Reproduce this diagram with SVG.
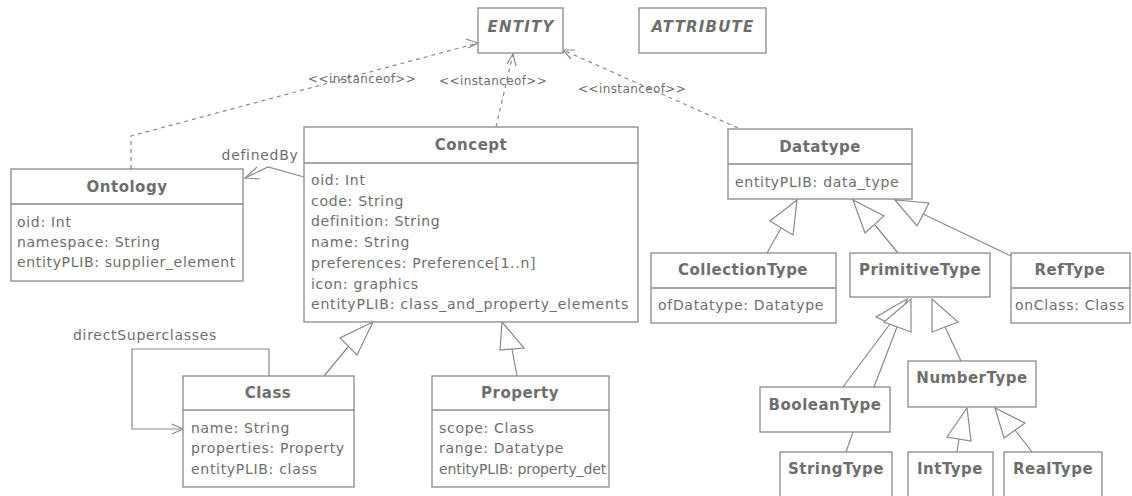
<svg xmlns="http://www.w3.org/2000/svg" width="1132" height="496" viewBox="0 0 1132 496">
<style>
.box{fill:#fff;stroke:#8a8a8a;stroke-width:1.3}
.sep{stroke:#8a8a8a;stroke-width:1.3}
.t{font-family:"DejaVu Sans",Verdana,sans-serif;font-size:14px;letter-spacing:0.7px;fill:#6e6e6e}
.h{font-family:"DejaVu Sans",Verdana,sans-serif;font-size:15px;letter-spacing:0.5px;font-weight:bold;fill:#6e6e6e;text-anchor:middle}
.hi{font-family:"DejaVu Sans",Verdana,sans-serif;font-size:15px;letter-spacing:1.2px;font-weight:bold;font-style:italic;fill:#6e6e6e;text-anchor:middle}
.lbl{font-family:"DejaVu Sans",Verdana,sans-serif;font-size:12px;letter-spacing:0.4px;fill:#6e6e6e}
.ln{fill:none;stroke:#8a8a8a;stroke-width:1.2}
.dash{fill:none;stroke:#8a8a8a;stroke-width:1.2;stroke-dasharray:4 4}
.tri{fill:#fff;stroke:#8a8a8a;stroke-width:1.2}
</style>
<g id="connectors">
  <polyline class="dash" points="131,169 131,136 478,43"/>
  <polyline class="ln" points="466,39 478,43 468,48"/>
  <text class="lbl" x="308" y="83">&lt;&lt;instanceof&gt;&gt;</text>
  <polyline class="dash" points="496,127 513,54"/>
  <polyline class="ln" points="507,64 513,54 516,66"/>
  <text class="lbl" x="439" y="85">&lt;&lt;instanceof&gt;&gt;</text>
  <polyline class="dash" points="738,128 563,50"/>
  <polyline class="ln" points="575,50 563,50 571,59"/>
  <text class="lbl" x="578" y="93">&lt;&lt;instanceof&gt;&gt;</text>
  <polyline class="ln" points="304,177 268,167 245,178"/>
  <polyline class="ln" points="257,167 245,178 260,179"/>
  <text class="t" x="260" y="160" text-anchor="middle">definedBy</text>
  <polyline class="ln" points="269,376 269,349 132,349 132,429 183,429"/>
  <polyline class="ln" points="172,424 183,429 172,434"/>
  <text class="t" x="73" y="340">directSuperclasses</text>
  <line class="ln" x1="324" y1="376" x2="348" y2="347"/>
  <polygon class="tri" points="373,322 340,338 357,355"/>
  <line class="ln" x1="517" y1="376" x2="512" y2="349"/>
  <polygon class="tri" points="502,322 500,350 524,348"/>
  <line class="ln" x1="767" y1="253" x2="781" y2="228"/>
  <polygon class="tri" points="797,200 770,221 793,235"/>
  <line class="ln" x1="898" y1="253" x2="875" y2="225"/>
  <polygon class="tri" points="853,200 865,233 884,216"/>
  <line class="ln" x1="1011" y1="256" x2="923" y2="214"/>
  <polygon class="tri" points="895,200 917,226 929,203"/>
  <line class="ln" x1="843" y1="387" x2="893" y2="320"/>
  <line class="ln" x1="846" y1="452" x2="853" y2="432"/>
  <line class="ln" x1="874" y1="387" x2="897" y2="327"/>
  <polygon class="tri" points="907,299 876,317 897,327"/>
  <polygon class="tri" points="911,299 911,332 884,322"/>
  <line class="ln" x1="961" y1="361" x2="945" y2="327"/>
  <polygon class="tri" points="932,299 932,332 958,322"/>
  <line class="ln" x1="957" y1="452" x2="959" y2="439"/>
  <polygon class="tri" points="967,408 947,437 971,441"/>
  <line class="ln" x1="1032" y1="452" x2="1015" y2="430"/>
  <polygon class="tri" points="995,408 1004,438 1025,423"/>
</g>
<g id="ENTITY">
  <rect class="box" x="478" y="8" width="85" height="45"/>
  <text class="hi" x="521" y="32">ENTITY</text>
</g>
<g id="ATTRIBUTE">
  <rect class="box" x="639" y="8" width="127" height="45"/>
  <text class="hi" x="703" y="32">ATTRIBUTE</text>
</g>
<g id="Concept">
  <rect class="box" x="304" y="127" width="334" height="195"/>
  <line class="sep" x1="304" y1="163" x2="638" y2="163"/>
  <text class="h" x="471" y="150">Concept</text>
  <text class="t" x="311" y="185">oid: Int</text>
  <text class="t" x="311" y="206">code: String</text>
  <text class="t" x="311" y="226">definition: String</text>
  <text class="t" x="311" y="247">name: String</text>
  <text class="t" x="311" y="268">preferences: Preference[1..n]</text>
  <text class="t" x="311" y="289">icon: graphics</text>
  <text class="t" x="311" y="309" textLength="318">entityPLIB: class_and_property_elements</text>
</g>
<g id="Ontology">
  <rect class="box" x="11" y="169" width="232" height="112"/>
  <line class="sep" x1="11" y1="204" x2="243" y2="204"/>
  <text class="h" x="127" y="192">Ontology</text>
  <text class="t" x="17" y="227">oid: Int</text>
  <text class="t" x="17" y="247">namespace: String</text>
  <text class="t" x="17" y="267" textLength="219">entityPLIB: supplier_element</text>
</g>
<g id="Datatype">
  <rect class="box" x="728" y="129" width="184" height="70"/>
  <line class="sep" x1="728" y1="164" x2="912" y2="164"/>
  <text class="h" x="820" y="152">Datatype</text>
  <text class="t" x="735" y="187">entityPLIB: data_type</text>
</g>
<g id="CollectionType">
  <rect class="box" x="651" y="253" width="185" height="70"/>
  <line class="sep" x1="651" y1="288" x2="836" y2="288"/>
  <text class="h" x="743" y="275">CollectionType</text>
  <text class="t" x="658" y="310">ofDatatype: Datatype</text>
</g>
<g id="PrimitiveType">
  <rect class="box" x="850" y="253" width="140" height="44"/>
  <text class="h" x="920" y="275">PrimitiveType</text>
</g>
<g id="RefType">
  <rect class="box" x="1011" y="253" width="119" height="70"/>
  <line class="sep" x1="1011" y1="288" x2="1130" y2="288"/>
  <text class="h" x="1070" y="275">RefType</text>
  <text class="t" x="1015" y="310">onClass: Class</text>
</g>
<g id="Class">
  <rect class="box" x="183" y="376" width="171" height="111"/>
  <line class="sep" x1="183" y1="410" x2="354" y2="410"/>
  <text class="h" x="268" y="398">Class</text>
  <text class="t" x="191" y="433">name: String</text>
  <text class="t" x="191" y="453">properties: Property</text>
  <text class="t" x="191" y="474">entityPLIB: class</text>
</g>
<g id="Property">
  <rect class="box" x="432" y="376" width="177" height="111"/>
  <line class="sep" x1="432" y1="410" x2="609" y2="410"/>
  <text class="h" x="520" y="398">Property</text>
  <text class="t" x="439" y="433">scope: Class</text>
  <text class="t" x="439" y="453">range: Datatype</text>
  <text class="t" x="439" y="474" textLength="168">entityPLIB: property_det</text>
</g>
<g id="BooleanType">
  <rect class="box" x="760" y="387" width="130" height="45"/>
  <text class="h" x="825" y="410">BooleanType</text>
</g>
<g id="NumberType">
  <rect class="box" x="908" y="361" width="128" height="46"/>
  <text class="h" x="972" y="383">NumberType</text>
</g>
<g id="StringType">
  <rect class="box" x="780" y="452" width="112" height="50"/>
  <text class="h" x="836" y="474">StringType</text>
</g>
<g id="IntType">
  <rect class="box" x="908" y="452" width="85" height="50"/>
  <text class="h" x="950" y="474">IntType</text>
</g>
<g id="RealType">
  <rect class="box" x="1004" y="452" width="98" height="50"/>
  <text class="h" x="1053" y="474">RealType</text>
</g>
</svg>
